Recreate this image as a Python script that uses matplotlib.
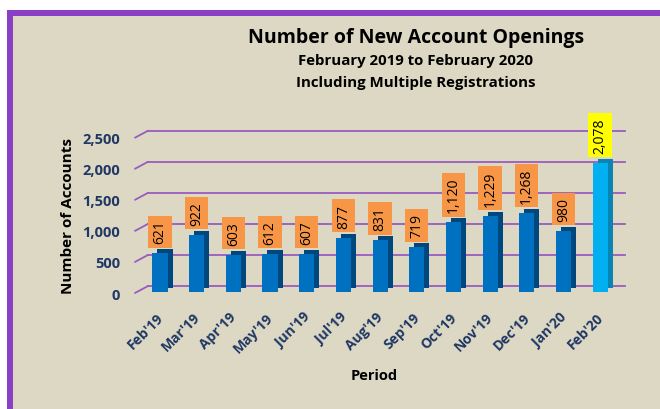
import matplotlib.pyplot as plt
import matplotlib.transforms as mtransforms
from matplotlib.patches import Rectangle

title = "Number of New Account Openings"
subtitle1 = "February 2019 to February 2020"
subtitle2 = "Including Multiple Registrations"
xlabel = "Period"
ylabel = "Number of Accounts"

periods = ["Feb'19", "Mar'19", "Apr'19", "May'19", "Jun'19", "Jul'19", "Aug'19",
           "Sep'19", "Oct'19", "Nov'19", "Dec'19", "Jan'20", "Feb'20"]
accounts = [621, 922, 603, 612, 607, 877, 831, 719, 1120, 1229, 1268, 980, 2078]
y_ticks = [0, 500, 1000, 1500, 2000, 2500]

bg = "#DDD8C3"
purple = "#8B3FC4"
grid_purple = "#9A5BC0"
navy = "#1F3864"

plt.rcParams['font.family'] = ['Open Sans', 'DejaVu Sans']

fig = plt.figure(figsize=(6.6, 4.1), dpi=100)
fig.patch.set_facecolor("white")
# beige panel with purple frame on the left and top
fig.patches.append(Rectangle((7 / 660, 0), 1, 1 - 11 / 410, transform=fig.transFigure,
                             facecolor=purple, edgecolor="none", zorder=-2))
fig.patches.append(Rectangle((13 / 660, 0), 1, 1 - 17 / 410, transform=fig.transFigure,
                             facecolor=bg, edgecolor="none", zorder=-1))

ax = fig.add_axes([148 / 660, 123 / 410, 477 / 660, 155.3 / 410])
ax.set_facecolor("none")
for s in ax.spines.values():
    s.set_visible(False)

x = list(range(len(periods)))
ax.set_xlim(-0.327, 12.68)
ax.set_ylim(0, 2500)

# back-wall gridlines with small perspective stubs on the left
for t in y_ticks:
    ax.plot([0, 1], [t, t], transform=ax.get_yaxis_transform(), color=grid_purple,
            lw=1.3, zorder=1, clip_on=False)
    ax.annotate("", xy=(0, t), xycoords=ax.get_yaxis_transform(),
                xytext=(-13, -7), textcoords="offset pixels",
                arrowprops=dict(arrowstyle="-", color=grid_purple, lw=1.3,
                                shrinkA=0, shrinkB=0))

front_colors = ["#0070C0"] * (len(x) - 1) + ["#00B0F0"]
side_colors = ["#00477D"] * (len(x) - 1) + ["#0A84B0"]
box_colors = ["#F79646"] * (len(x) - 1) + ["#FFFF00"]

# pseudo 3D: front face sits in front of the wall, darker copy behind it
front = mtransforms.offset_copy(ax.transData, fig=fig, x=0, y=-6, units="dots")
back = mtransforms.offset_copy(ax.transData, fig=fig, x=5, y=-2, units="dots")
ax.bar(x, accounts, width=0.41, color=side_colors, transform=back, zorder=2, clip_on=False)
ax.bar(x, accounts, width=0.41, color=front_colors, transform=front, zorder=3, clip_on=False)

for xi, v, bc in zip(x, accounts, box_colors):
    ax.annotate(f"{v:,}", xy=(xi, v), xytext=(0, 4), textcoords="offset pixels",
                rotation=90, ha="center", va="bottom", fontsize=10, color="black",
                bbox=dict(boxstyle="square,pad=0.3", facecolor=bc, edgecolor="none"),
                zorder=4)

ax.set_yticks(y_ticks)
ax.set_yticklabels([f"{t:,}" for t in y_ticks], fontsize=10.5, fontweight="bold", color=navy)
ax.set_xticks(x)
ax.set_xticklabels(periods, rotation=45, ha="right", rotation_mode="anchor",
                   fontsize=10, fontweight="bold", color=navy)
ax.tick_params(axis="both", length=0)
ax.tick_params(axis="y", pad=20)
ax.tick_params(axis="x", pad=17)
for lab in ax.get_yticklabels():
    lab.set_transform(lab.get_transform() + mtransforms.ScaledTranslation(0, -7 / 100, fig.dpi_scale_trans))
for lab in ax.get_xticklabels():
    lab.set_transform(lab.get_transform() + mtransforms.ScaledTranslation(-4 / 100, 0, fig.dpi_scale_trans))

fig.text(68 / 660, 1 - 216 / 410, ylabel, rotation=90, ha="center", va="center",
         fontsize=11, fontweight="bold")
fig.text(374 / 660, 1 - 376 / 410, xlabel, ha="center", va="center",
         fontsize=10.5, fontweight="bold")
fig.text(416 / 660, 1 - 38 / 410, title, ha="center", va="center",
         fontsize=14, fontweight="bold")
fig.text(416 / 660, 1 - 61 / 410, subtitle1, ha="center", va="center",
         fontsize=10.8, fontweight="bold")
fig.text(416 / 660, 1 - 83 / 410, subtitle2, ha="center", va="center",
         fontsize=10.8, fontweight="bold")

fig.savefig("out.png", dpi=100, facecolor=fig.get_facecolor())
